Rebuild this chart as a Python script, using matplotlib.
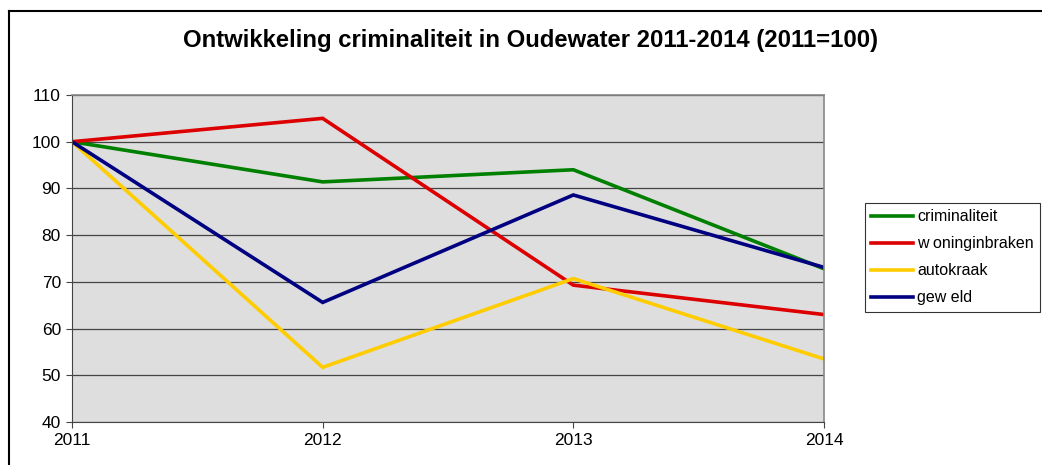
import matplotlib.pyplot as plt
from matplotlib.lines import Line2D

plt.rcParams['font.family'] = ['Liberation Sans', 'DejaVu Sans']

# gegevens (2011 = 100)
jaren = ['2011', '2012', '2013', '2014']
criminaliteit = [100, 91.4, 94.0, 72.8]
woninginbraken = [100, 105.0, 69.3, 63.0]
autokraak = [100, 51.7, 70.7, 53.5]
geweld = [100, 65.6, 88.6, 73.1]

reeksen = ['criminaliteit', 'w oninginbraken', 'autokraak', 'gew eld']
kleuren = ['#008000', '#dd0000', '#ffcc00', '#000080']

fig = plt.figure(figsize=(10.42, 4.65), dpi=100)
ax = fig.add_axes([72/1042, 1-422/465, (824-72)/1042, (422-95)/465])
ax.set_facecolor('#dedede')

x = range(len(jaren))
for data, naam, kleur in zip([criminaliteit, woninginbraken, autokraak, geweld], reeksen, kleuren):
    ax.plot(x, data, color=kleur, lw=2.6, label=naam, solid_joinstyle='miter')

ax.set_xlim(0, 3)
ax.set_ylim(40, 110)
ax.set_yticks(range(40, 111, 10))
ax.set_xticks(list(x))
ax.set_xticklabels(jaren)
ax.tick_params(labelsize=12.5, length=4, color='#444444', pad=4)
ax.grid(axis='y', color='#444444', lw=0.9)
ax.set_axisbelow(True)
for s in ['left', 'bottom']:
    ax.spines[s].set_color('#444444')
for s in ['top', 'right']:
    ax.spines[s].set_color('#888888')
    ax.spines[s].set_linewidth(1.2)

fig.suptitle('Ontwikkeling criminaliteit in Oudewater 2011-2014 (2011=100)',
             x=531/1042, y=1-40/465, va='center', fontsize=17.2, fontweight='bold')

leg = ax.legend(loc='upper left', bbox_to_anchor=(865/1042, 1-203/465),
                bbox_transform=fig.transFigure, fontsize=11.5, frameon=True,
                fancybox=False, edgecolor='black', handlelength=2.6,
                handletextpad=0.25, borderpad=0.4, labelspacing=0.75,
                borderaxespad=0)
leg.get_frame().set_linewidth(0.8)

# kader om de grafiek
fig.add_artist(Line2D([9/1042, 9/1042], [0, 1-11/465], transform=fig.transFigure, color='black', lw=1.5))
fig.add_artist(Line2D([9/1042, 1], [1-11/465, 1-11/465], transform=fig.transFigure, color='black', lw=1.5))

fig.savefig('out.png', dpi=100)
